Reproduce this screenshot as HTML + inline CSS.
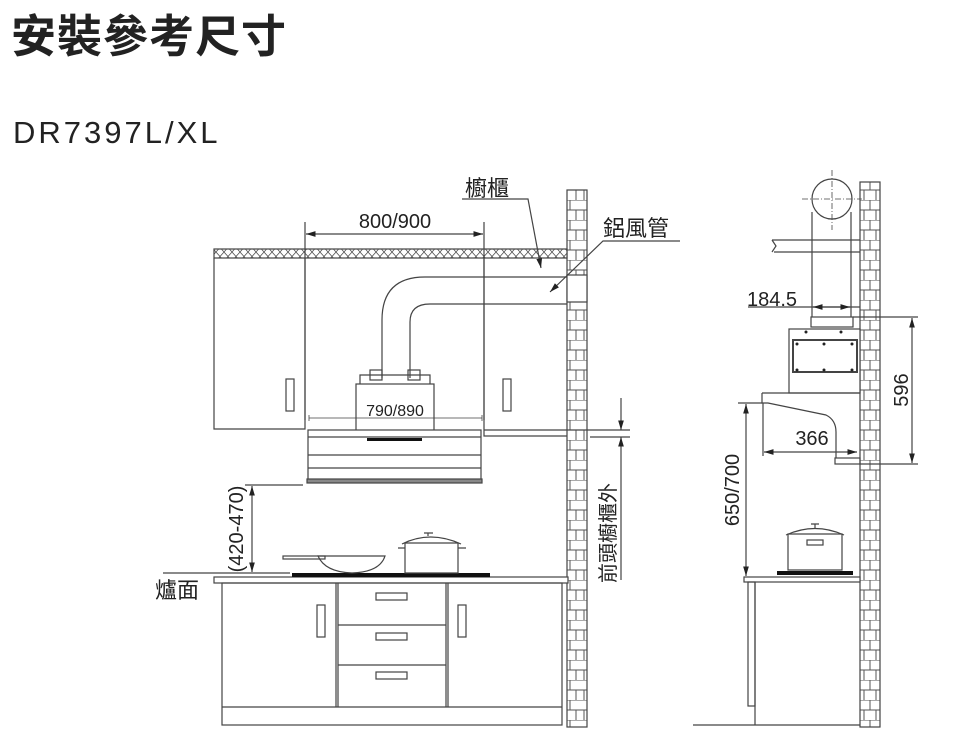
<!DOCTYPE html>
<html><head><meta charset="utf-8"><style>
html,body{margin:0;padding:0;background:#fff;}
svg{display:block;}
text{font-family:"Liberation Sans","Noto Sans CJK TC",sans-serif;fill:#222;}
</style></head><body>
<svg width="960" height="742" viewBox="0 0 960 742" xmlns="http://www.w3.org/2000/svg">
<defs>
<pattern id="brick" x="0" y="0" width="20" height="20" patternUnits="userSpaceOnUse">
<rect x="0" y="0" width="20" height="20" fill="#fff"/>
<path d="M0 0H20M0 10H20M10 0V10M4 10V20M16 10V20" stroke="#555" stroke-width="1" fill="none"/>
</pattern>
<pattern id="hatch" x="0" y="0" width="8" height="9" patternUnits="userSpaceOnUse">
<rect width="8" height="9" fill="#fff"/>
<path d="M0 0L8 9M8 0L0 9" stroke="#555" stroke-width="0.8"/>
</pattern>
<marker id="ar" viewBox="0 0 10 10" refX="10" refY="5" markerWidth="8" markerHeight="8" orient="auto-start-reverse"><path d="M0 2L10 5L0 8z" fill="#222"/></marker>
</defs>

<text x="11" y="52" font-size="45" font-weight="bold" fill="#111" style="letter-spacing:1px">安裝參考尺寸</text>
<text x="13" y="143" font-size="31" fill="#222" style="letter-spacing:3px">DR7397L/XL</text>

<g stroke="#444" stroke-width="1.2" fill="none">
<rect x="567" y="190" width="20" height="537" fill="url(#brick)"/>
<rect x="567" y="275" width="20" height="27" fill="#fff" stroke="#444"/>
<rect x="860" y="182" width="20" height="545" fill="url(#brick)"/>

<rect x="214" y="249" width="353" height="9" fill="url(#hatch)"/>
<path d="M214 258V429H305V258M484 258V436H567"/>
<path d="M305 258V420M484 258V420"/>
<rect x="286" y="379" width="8" height="32"/>
<rect x="503" y="379" width="8" height="32"/>
<path d="M305 222V258M484 222V258"/>
<line x1="306" y1="234" x2="483" y2="234" marker-start="url(#ar)" marker-end="url(#ar)"/>

<path d="M382 378V320Q382 277 425 277H567"/>
<path d="M410 378V322Q410 304 430 304H567"/>
<path d="M360 384V375H430V384"/>
<rect x="370" y="370" width="12" height="10"/>
<rect x="408" y="370" width="12" height="10"/>
<rect x="356" y="384" width="78" height="48" fill="#fff"/>
<path d="M309 418H482M309 415V421M482 415V421" stroke-width="0.8"/>
<rect x="308" y="430" width="173" height="50" fill="#fff"/>
<path d="M308 437H481M308 455H481M308 468H481"/>
<rect x="307" y="479" width="175" height="4" fill="#888"/>
<rect x="367" y="438" width="55" height="3" fill="#111" stroke="none"/>

<path d="M462 199H528L541 268" marker-end="url(#ar)"/>
<path d="M680 241H603L550 292" marker-end="url(#ar)"/>

<path d="M484 430H630M590 437H630"/>
<line x1="621" y1="398" x2="621" y2="430" marker-end="url(#ar)"/>
<line x1="621" y1="580" x2="621" y2="437" marker-end="url(#ar)"/>

<path d="M245 485H303M163 573H290"/>
<line x1="252" y1="486" x2="252" y2="572" marker-start="url(#ar)" marker-end="url(#ar)"/>

<rect x="214" y="577" width="354" height="6" fill="#fff"/>
<rect x="292" y="573" width="198" height="4" fill="#111" stroke="none"/>
<rect x="283" y="556" width="42" height="3"/>
<path d="M318 556H385Q380 572 352 573Q325 572 318 556Z"/>
<path d="M405 543H458V573H405Z"/>
<path d="M402 544Q430 530 461 544"/>
<path d="M428 533V536M424 533H433"/>
<path d="M398 548H405M458 548H466"/>
<rect x="222" y="583" width="340" height="142"/>
<path d="M222 707H562M336 583V707M338 583V707M446 583V707M448 583V707M338 625H446M338 665H446"/>
<rect x="317" y="605" width="8" height="32"/>
<rect x="458" y="605" width="8" height="32"/>
<rect x="376" y="593" width="31" height="7"/>
<rect x="376" y="633" width="31" height="7"/>
<rect x="376" y="672" width="31" height="7"/>

<circle cx="832" cy="199" r="20"/>
<path d="M832 170V230M802 199H862" stroke-dasharray="6 2 1 2" stroke-width="0.8"/>
<path d="M772 240H860M774 252H860M772 240L776 246L772 252"/>
<path d="M812 212V317M851 212V317"/>
<path d="M748 307H860"/>
<line x1="813" y1="307" x2="850" y2="307" marker-start="url(#ar)" marker-end="url(#ar)"/>
<path d="M853 317H918"/>
<rect x="811" y="317" width="42" height="10"/>
<rect x="789" y="329" width="71" height="64" fill="#fff"/>
<rect x="793" y="340" width="64" height="32" stroke-width="2"/>
<g fill="#222" stroke="none">
<circle cx="797" cy="344" r="1.5"/><circle cx="824" cy="344" r="1.5"/><circle cx="852" cy="344" r="1.5"/>
<circle cx="797" cy="370" r="1.5"/><circle cx="824" cy="370" r="1.5"/><circle cx="852" cy="370" r="1.5"/>
<circle cx="806" cy="332" r="1.5"/><circle cx="841" cy="332" r="1.5"/>
</g>
<path d="M762 393H860M762 393V403H768L826 415Q836 420 836 432V458"/>
<rect x="835" y="458" width="25" height="6"/>
<path d="M763 403V456"/>
<line x1="764" y1="452" x2="857" y2="452" marker-start="url(#ar)" marker-end="url(#ar)"/>
<path d="M860 464H918"/>
<line x1="912" y1="318" x2="912" y2="463" marker-start="url(#ar)" marker-end="url(#ar)"/>
<path d="M738 403H762"/>
<line x1="746" y1="404" x2="746" y2="576" marker-start="url(#ar)" marker-end="url(#ar)"/>
<rect x="744" y="577" width="116" height="5" fill="#fff"/>
<rect x="777" y="571" width="76" height="4" fill="#111" stroke="none"/>
<path d="M788 534H842V570H788Z"/>
<path d="M786 535Q815 522 844 535"/>
<path d="M815 524V528M811 524H819"/>
<rect x="807" y="540" width="16" height="5"/>
<rect x="748" y="582" width="7" height="124"/>
<path d="M755 582V725M693 725H860"/>
</g>

<g>
<text x="395" y="228" text-anchor="middle" font-size="20">800/900</text>
<text x="395" y="416" text-anchor="middle" font-size="16">790/890</text>
<text x="465" y="196" font-size="22">櫥櫃</text>
<text x="603" y="236" font-size="22">鋁風管</text>
<text x="155" y="598" font-size="22">爐面</text>
<text transform="translate(243,529) rotate(-90)" text-anchor="middle" font-size="20">(420-470)</text>
<text transform="translate(615,533) rotate(-90)" text-anchor="middle" font-size="20">前頭櫥櫃外</text>
<text x="747" y="306" font-size="20">184.5</text>
<text x="812" y="445" text-anchor="middle" font-size="20">366</text>
<text transform="translate(908,390) rotate(-90)" text-anchor="middle" font-size="20">596</text>
<text transform="translate(739,490) rotate(-90)" text-anchor="middle" font-size="20">650/700</text>
</g>
</svg>
</body></html>
